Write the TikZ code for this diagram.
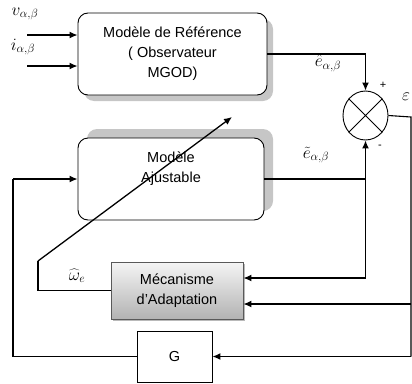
\documentclass[tikz,border=0pt]{standalone}
\usepackage{fontspec}
\setmainfont{Liberation Sans}
\usetikzlibrary{arrows.meta,shapes.geometric,calc}
\begin{document}
\begin{tikzpicture}[x=1pt,y=-1pt,
  txt/.style={font=\fontsize{14.5}{20}\selectfont, align=center},
  blk/.style={draw, rounded corners=10pt, fill=white, line width=0.9pt, inner sep=0pt, txt},
  sqr/.style={draw, fill=white, line width=0.9pt, inner sep=0pt, txt},
  ln/.style={line width=1.1pt},
  arr/.style={line width=1.3pt, -{Latex[length=8pt,width=7pt]}},
  mlab/.style={font=\fontsize{18}{20}\selectfont, inner sep=0pt}]
\useasboundingbox (0,0) rectangle (412,383);
% shadows
\fill[gray!45, rounded corners=10pt] (84,19) rectangle (273,101);
\fill[gray!45, rounded corners=10pt] (87,129) rectangle (273,211);
\fill[gray!55] (113,264) rectangle (245,321);
% boxes
\node[blk, minimum width=189pt, minimum height=82pt] (ref) at (172.5,54) {Modèle de Référence\\( Observateur\\MGOD)};
\node[blk, minimum width=186pt, minimum height=82pt] (adj) at (171,179) {Modèle\\Ajustable\\[4pt]};
\node[sqr, draw=gray!70!black, top color=gray!8, bottom color=gray!60, minimum width=132pt, minimum height=57pt] (mec) at (177,290.5) {Mécanisme\\d’Adaptation};
\node[sqr, minimum width=75pt, minimum height=51pt] (g) at (174.5,356.5) {G};
% summing junction
\node[draw, ellipse, line width=0.9pt, minimum width=45pt, minimum height=49pt, inner sep=0pt] (sum) at (365.5,115.5) {};
\draw[line width=0.9pt] (sum.45) -- (sum.225) (sum.135) -- (sum.315);
% coordinates
\coordinate (in1) at (27,35);
\coordinate (in2) at (27,66);
\coordinate (b1) at (365.5,278);
\coordinate (r1) at (411,117);
\coordinate (r2) at (411,304);
\coordinate (r3) at (411,356.5);
\coordinate (w1) at (38,290.5);
\coordinate (w2) at (38,261);
\coordinate (w3) at (232,117);
\coordinate (f1) at (13,356.5);
\coordinate (f2) at (13,179);
% inputs
\draw[arr] (in1) -- (in1 -| ref.west);
\draw[arr] (in2) -- (in2 -| ref.west);
% to summing junction
\draw[ln] (ref.east) -- (ref.east -| sum.north);
\draw[arr] (ref.east -| sum.north) -- (sum.north);
\draw[ln] (adj.east) -- (adj.east -| sum.south);
\draw[arr] (b1) -- (sum.south);
\draw[arr] (b1) -- (b1 -| mec.east);
% error output
\draw[ln] (sum.east) -- (r1) -- (r3);
\draw[arr] (r2) -- (r2 -| mec.east);
\draw[arr] (r3) -- (g.east);
% omega estimate
\draw[ln] (mec.west) -- (w1) -- (w2);
\draw[arr] (w2) -- (w3);
% feedback via G
\draw[ln] (g.west) -- (f1) -- (f2);
\draw[arr] (f2) -- (adj.west);
% labels
\node[mlab] (lv) at (25,14) {$v_{\alpha,\beta}$};
\node[mlab] (li) at (23,47) {$i_{\alpha,\beta}$};
\node[mlab] (le) at (328,63) {$\hat{e}_{\alpha,\beta}$};
\node[mlab] (lt) at (316,155) {$\tilde{e}_{\alpha,\beta}$};
\node[mlab] (lw) at (77,276) {$\widehat{\omega}_e$};
\node[mlab, anchor=west] (leps) at (402,97) {$\varepsilon$};
\node[font=\fontsize{11}{12}\selectfont, inner sep=0pt] (lp) at (383,85) {+};
\node[font=\fontsize{11}{12}\selectfont, inner sep=0pt] (lm) at (380,147) {-};
\end{tikzpicture}
\end{document}
